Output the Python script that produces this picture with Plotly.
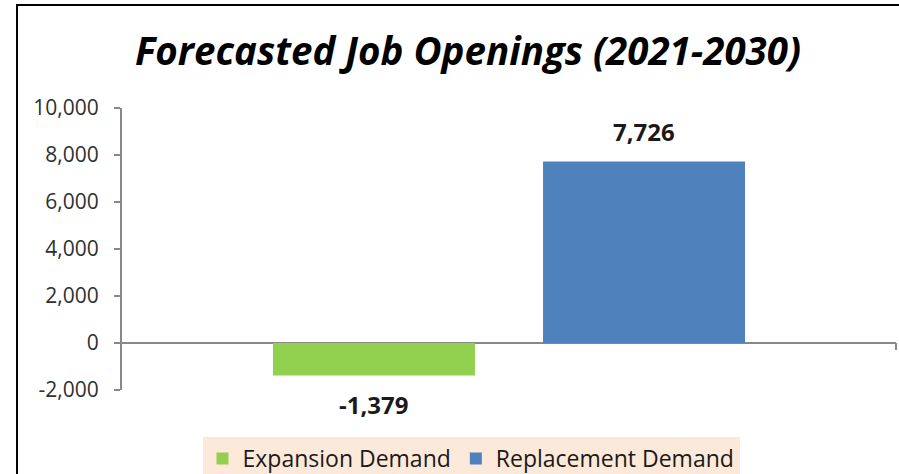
import plotly.graph_objects as go

series = ["Expansion Demand", "Replacement Demand"]
values = [-1379, 7726]
colors = ["#92D050", "#4F81BD"]
y_ticks = [-2000, 0, 2000, 4000, 6000, 8000, 10000]
y_ticktext = ["{:,}".format(t) for t in y_ticks]
title = "Forecasted Job Openings (2021-2030)"

FONT = "Open Sans"
AXIS = "#888888"

fig = go.Figure()
for name, v, c in zip(series, values, colors):
    fig.add_trace(go.Bar(
        x=[name], y=[v], name=name, marker=dict(color=c, line=dict(width=0)),
        width=0.748, showlegend=True,
    ))
    fig.add_annotation(
        x=name, y=v, xref="x", yref="y",
        text="<b>{:,}</b>".format(v),
        showarrow=False,
        yanchor="bottom" if v >= 0 else "top",
        yshift=11 if v >= 0 else -11,
        font=dict(family=FONT, size=24, color="#1a1a1a"),
    )

fig.update_layout(
    width=899, height=474,
    margin=dict(l=122, r=3, t=108, b=84, autoexpand=False),
    paper_bgcolor="white", plot_bgcolor="white",
    title=dict(text="<b><i>" + title + "</i></b>", x=468 / 899, xref="container", xanchor="center",
               y=1 - 52 / 474, yref="container", yanchor="middle",
               font=dict(family=FONT, size=38.5, color="black")),
    barmode="overlay",
    showlegend=True,
    legend=dict(orientation="h", x=(471 - 122) / 774, xanchor="center", xref="paper",
                y=(390 - 437) / 282, yanchor="top",
                bgcolor="#FDE9D9", font=dict(family=FONT, size=23, color="#1a1a1a")),
    xaxis=dict(range=[-0.933, 1.933], showticklabels=False, showline=False, showgrid=False,
               zeroline=False, ticks=""),
    yaxis=dict(range=[-2000, 10000], tickvals=y_ticks, ticktext=y_ticktext, showgrid=False,
               showline=True, linecolor=AXIS, linewidth=2, ticks="outside", ticklen=6,
               tickcolor=AXIS, tickwidth=2, ticklabelstandoff=11, automargin=False,
               zeroline=True, zerolinecolor=AXIS, zerolinewidth=2,
               tickfont=dict(family=FONT, size=21, color="#303030")),
)

# zero-line end tick and chart border
fig.add_shape(type="line", xref="paper", yref="y", x0=1, x1=1, y0=0, y1=-7,
              ysizemode="pixel", yanchor=0, line=dict(color=AXIS, width=2))
fig.add_shape(type="rect", xref="paper", yref="paper",
              x0=(17 - 122) / 774, x1=1.5, y0=-0.6, y1=(390 - 5) / 282,
              line=dict(color="black", width=2), fillcolor="rgba(0,0,0,0)", layer="above")

fig.write_html("out.html", config={"displayModeBar": False},
               post_script="document.body.style.margin='0';document.body.style.overflow='hidden';")
